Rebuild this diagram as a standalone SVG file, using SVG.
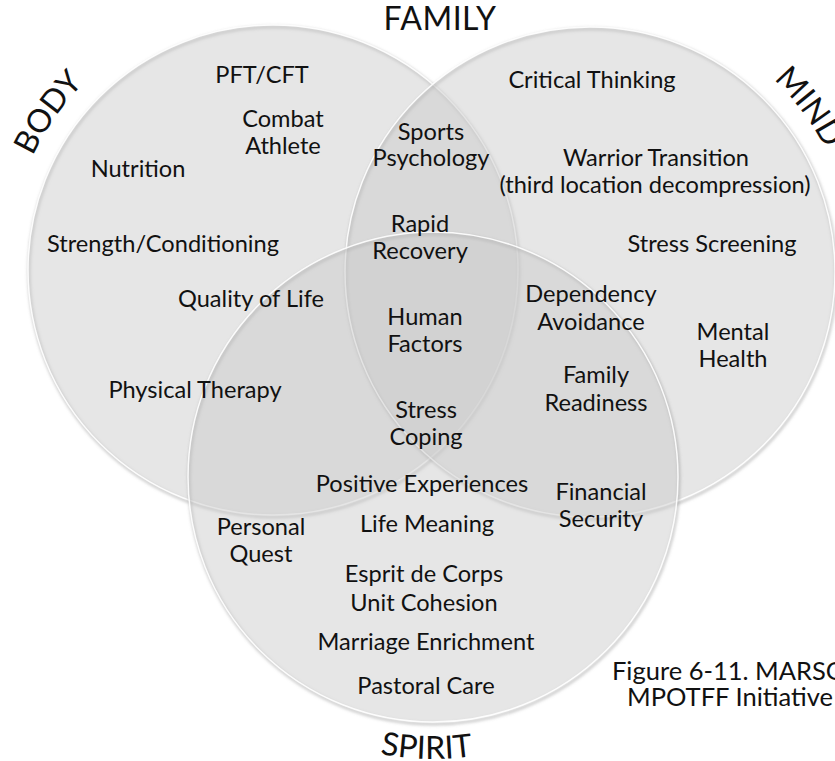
<svg xmlns="http://www.w3.org/2000/svg" width="835" height="761" viewBox="0 0 835 761">
<defs>
<style>
.t{font-family:"Lato","Open Sans","Liberation Sans",sans-serif;font-size:23.6px;fill:#111;text-anchor:middle}
.big{font-family:"Lato","Open Sans","Liberation Sans",sans-serif;font-size:32px;fill:#111;text-anchor:middle}
.cap{font-family:"Lato","Open Sans","Liberation Sans",sans-serif;font-size:25.5px;fill:#111}
.fill{fill:#cbcbcb;fill-opacity:0.48}
.shadow{fill:none;stroke:#8a8a8a;stroke-width:3;stroke-opacity:0.45}
.edge{fill:none;stroke:#ffffff;stroke-width:1.5;stroke-opacity:0.9}
</style>
<filter id="blur" x="-10%" y="-10%" width="120%" height="120%"><feGaussianBlur stdDeviation="1.5"/></filter>
<path id="arcBody" d="M11.04,316.19 A266,266 0 0 1 226.81,8.04"/>
<path id="arcMind" d="M627.02,8.59 A266,266 0 0 1 853.41,309.02"/>
<path id="arcSpirit" d="M294,721.75 A278,278 0 0 0 572,721.75"/>
</defs>
<rect width="835" height="761" fill="#ffffff"/>
<g id="body">
<circle class="shadow" cx="274" cy="272" r="245" filter="url(#blur)"/>
<circle class="fill" cx="273" cy="270" r="245"/>
<circle class="edge" cx="273" cy="270" r="245"/>
</g>
<g id="mind">
<circle class="shadow" cx="591" cy="274" r="245" filter="url(#blur)"/>
<circle class="fill" cx="590" cy="272" r="245"/>
<circle class="edge" cx="590" cy="272" r="245"/>
</g>
<g id="spirit">
<circle class="shadow" cx="434" cy="479" r="245" filter="url(#blur)"/>
<circle class="fill" cx="433" cy="477" r="245"/>
<circle class="edge" cx="433" cy="477" r="245"/>
</g>
<g id="connectors"></g>
<g id="labels">
<text class="big" x="440" y="30" style="letter-spacing:0.5px">FAMILY</text>
<text class="big"><textPath href="#arcBody" startOffset="50%">BODY</textPath></text>
<text class="big"><textPath href="#arcMind" startOffset="50%">MIND</textPath></text>
<text class="big"><textPath href="#arcSpirit" startOffset="139">SPIRIT</textPath></text>
</g>
<g id="body-items">
<text class="t" x="262" y="83">PFT/CFT</text>
<text class="t" x="283" y="127">Combat</text>
<text class="t" x="283" y="154">Athlete</text>
<text class="t" x="138" y="177">Nutrition</text>
<text class="t" x="163" y="252">Strength/Conditioning</text>
<text class="t" x="251" y="307">Quality of Life</text>
<text class="t" x="195" y="398">Physical Therapy</text>
</g>
<g id="body-mind">
<text class="t" x="431" y="140">Sports</text>
<text class="t" x="431" y="166">Psychology</text>
<text class="t" x="420" y="232">Rapid</text>
<text class="t" x="420" y="259">Recovery</text>
<text class="t" x="425" y="325">Human</text>
<text class="t" x="425" y="352">Factors</text>
<text class="t" x="426" y="418">Stress</text>
<text class="t" x="426" y="445">Coping</text>
<text class="t" x="422" y="492">Positive Experiences</text>
</g>
<g id="mind-items">
<text class="t" x="592" y="88">Critical Thinking</text>
<text class="t" x="656" y="166">Warrior Transition</text>
<text class="t" x="655" y="193">(third location decompression)</text>
<text class="t" x="712" y="252">Stress Screening</text>
<text class="t" x="733" y="340">Mental</text>
<text class="t" x="733" y="367">Health</text>
</g>
<g id="mind-spirit">
<text class="t" x="591" y="302">Dependency</text>
<text class="t" x="591" y="330">Avoidance</text>
<text class="t" x="596" y="383">Family</text>
<text class="t" x="596" y="411">Readiness</text>
<text class="t" x="601" y="500">Financial</text>
<text class="t" x="601" y="527">Security</text>
</g>
<g id="spirit-items">
<text class="t" x="261" y="535">Personal</text>
<text class="t" x="261" y="562">Quest</text>
<text class="t" x="427" y="532">Life Meaning</text>
<text class="t" x="424" y="582">Esprit de Corps</text>
<text class="t" x="424" y="611">Unit Cohesion</text>
<text class="t" x="426" y="650">Marriage Enrichment</text>
<text class="t" x="426" y="694">Pastoral Care</text>
</g>
<g id="caption">
<text class="cap" x="612" y="680">Figure 6-11. MARSOC</text>
<text class="cap" x="730" y="706" style="text-anchor:middle">MPOTFF Initiative</text>
</g>
</svg>
